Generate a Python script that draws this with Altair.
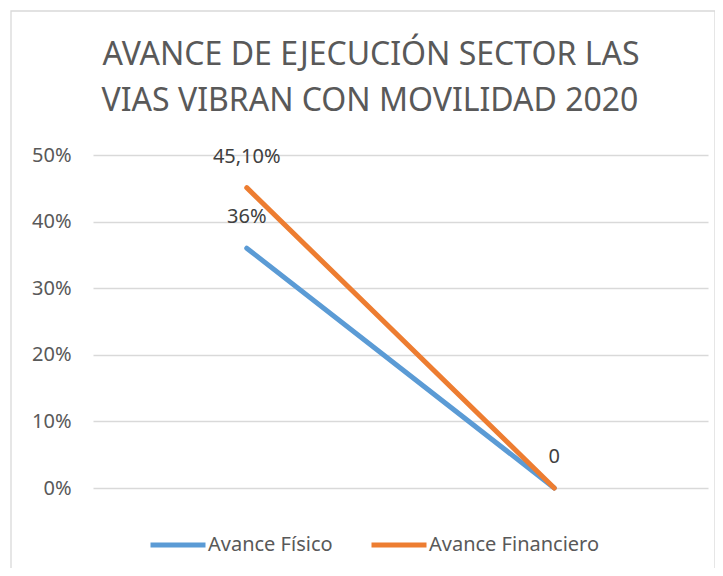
import altair as alt
import pandas as pd

categories = ["Inicio", "Fin"]
series_names = ["Avance Físico", "Avance Financiero"]
avance_fisico = [0.36, 0.0]
avance_financiero = [0.451, 0.0]
labels_fisico = ["36%", ""]
labels_financiero = ["45,10%", "0"]
colors = ["#5B9BD5", "#ED7D31"]
y_ticks = [0, 0.1, 0.2, 0.3, 0.4, 0.5]
title_lines = ["AVANCE DE EJECUCIÓN SECTOR LAS", "VIAS VIBRAN CON MOVILIDAD 2020"]

rows = []
for i, c in enumerate(categories):
    rows.append({"cat": c, "serie": series_names[0], "valor": avance_fisico[i], "label": labels_fisico[i], "ord": 0})
for i, c in enumerate(categories):
    rows.append({"cat": c, "serie": series_names[1], "valor": avance_financiero[i], "label": labels_financiero[i], "ord": 1})
df = pd.DataFrame(rows)

FONT = "Noto Sans"
FS = 20

x = alt.X("cat:N", sort=categories, axis=None, scale=alt.Scale(paddingInner=0, paddingOuter=0.5))
y = alt.Y("valor:Q", scale=alt.Scale(domain=[0, 0.5], nice=False),
          axis=alt.Axis(values=y_ticks, format=".0%", title=None, domain=False, ticks=False,
                        labelPadding=22, labelFont=FONT, labelFontSize=FS, labelColor="#595959",
                        gridColor="#D9D9D9", gridWidth=1.3))

one = pd.DataFrame({"a": [0]})

border = alt.Chart(one).mark_rect(filled=False, stroke="#D9D9D9", strokeWidth=1.3, clip=False).encode(
    x=alt.value(-82), x2=alt.value(622), y=alt.value(-144), y2=alt.value(415)
)

title1 = alt.Chart(pd.DataFrame({"t": [title_lines[0]]})).mark_text(
    font=FONT, fontSize=32, color="#595959", baseline="middle", align="center", clip=False
).encode(text="t:N", x=alt.value(278), y=alt.value(-100))
title2 = alt.Chart(pd.DataFrame({"t": [title_lines[1]]})).mark_text(
    font=FONT, fontSize=32, color="#595959", baseline="middle", align="center", clip=False
).encode(text="t:N", x=alt.value(277), y=alt.value(-54))

lines = alt.Chart(df).mark_line(strokeWidth=5, strokeCap="round").encode(
    x=x, y=y,
    color=alt.Color("serie:N", sort=series_names,
                    scale=alt.Scale(domain=series_names, range=colors),
                    legend=alt.Legend(title=None, orient="none", legendX=55, legendY=360,
                                      direction="horizontal", symbolType="stroke",
                                      symbolStrokeWidth=5, symbolSize=3025, labelOffset=0,
                                      columnPadding=28, labelFont=FONT, labelFontSize=FS,
                                      labelLimit=400, labelColor="#595959")),
    order=alt.Order("ord:Q"),
    detail="serie:N",
)

texts = alt.Chart(df).mark_text(dy=-31, font=FONT, fontSize=FS, color="#404040", baseline="middle").encode(
    x=x, y=y, text="label:N"
)

chart = alt.layer(border, title1, title2, lines, texts).properties(
    width=615, height=333,
    padding={"left": 85, "top": 147, "right": 7, "bottom": 80},
    autosize=alt.AutoSizeParams(type="none"),
).configure_view(strokeWidth=0)

chart.save("out.html", embed_options={"renderer": "svg", "actions": False})
